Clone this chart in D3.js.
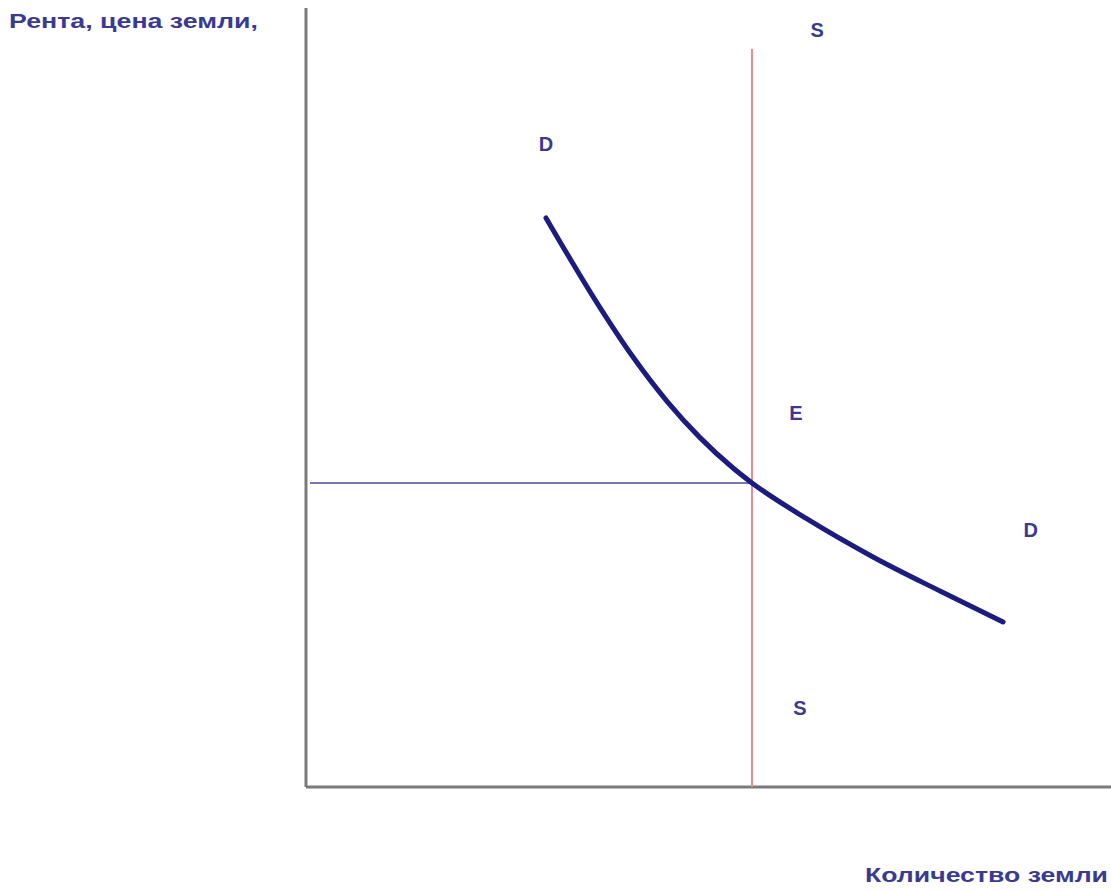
<!DOCTYPE html>
<html><head><meta charset="utf-8">
<script src="https://cdn.jsdelivr.net/npm/d3@7"></script>
<style>body{margin:0;background:#fff;}svg{display:block;}</style>
</head><body>
<script>
// Demand curve points (quantity, rent) in abstract units
const demandQ = [3.000, 3.675, 4.088, 4.513, 4.925, 5.338, 5.575, 6.263, 7.088, 7.925, 8.713];
const demandP = [7.305, 6.154, 5.519, 4.951, 4.485, 4.095, 3.903, 3.441, 2.953, 2.516, 2.118];
const supplyQ = 5.575;           // vertical supply line
const supplyTop = 9.474;
const equilibriumP = 3.903;
const pointLabels = ["S", "D", "E", "D", "S"];
const labelQ = [6.39, 3.00, 6.125, 9.06, 6.175];
const labelP = [9.72, 8.254, 4.80, 3.30, 1.01];
const yTitle = "Рента, цена земли,";
const xTitle = "Количество земли";

const W = 1111, H = 891;
const svg = d3.select("body").append("svg").attr("width", W).attr("height", H);
const x = d3.scaleLinear().domain([0, 10]).range([306, 1106]);
const y = d3.scaleLinear().domain([0, 10]).range([787, 8]);

const textColor = "#3a3a90";
const font = "Liberation Sans, Arial, sans-serif";
// axes
svg.append("line").attr("x1", x(0)).attr("x2", x(0)).attr("y1", y(10)).attr("y2", y(0))
  .attr("stroke", "#7a7a7a").attr("stroke-width", 3);
svg.append("line").attr("x1", x(0)).attr("x2", W).attr("y1", y(0)).attr("y2", y(0))
  .attr("stroke", "#7a7a7a").attr("stroke-width", 3);

// price line
svg.append("line").attr("x1", x(0.05)).attr("x2", x(supplyQ)).attr("y1", y(equilibriumP)).attr("y2", y(equilibriumP))
  .attr("stroke", "#7777b0").attr("stroke-width", 2);
// supply
svg.append("line").attr("x1", x(supplyQ)).attr("x2", x(supplyQ)).attr("y1", y(supplyTop)).attr("y2", y(0))
  .attr("stroke", "#ec8a90").attr("stroke-width", 2);

// demand
const pts = demandQ.map((q, i) => [q, demandP[i]]);
svg.append("path").datum(pts)
  .attr("d", d3.line().x(d => x(d[0])).y(d => y(d[1])).curve(d3.curveMonotoneX))
  .attr("fill", "none").attr("stroke", "#1c1c80").attr("stroke-width", 5).attr("stroke-linecap", "round");

// labels
svg.selectAll("text.lbl").data(pointLabels).enter().append("text")
  .attr("class", "lbl")
  .attr("x", (d, i) => x(labelQ[i])).attr("y", (d, i) => y(labelP[i]))
  .attr("text-anchor", "middle").attr("dominant-baseline", "central")
  .attr("font-family", font).attr("font-weight", "bold")
  .attr("font-size", 20).attr("fill", textColor).text(d => d);

svg.append("text").attr("x", 9).attr("y", 28)
  .attr("font-family", font).attr("font-weight", "bold")
  .attr("textLength", 249).attr("lengthAdjust", "spacingAndGlyphs")
  .attr("font-size", 20).attr("fill", textColor).text(yTitle);
svg.append("text").attr("x", 865).attr("y", 882)
  .attr("font-family", font).attr("font-weight", "bold")
  .attr("textLength", 243).attr("lengthAdjust", "spacingAndGlyphs")
  .attr("font-size", 21).attr("fill", textColor).text(xTitle);
</script>
</body></html>
